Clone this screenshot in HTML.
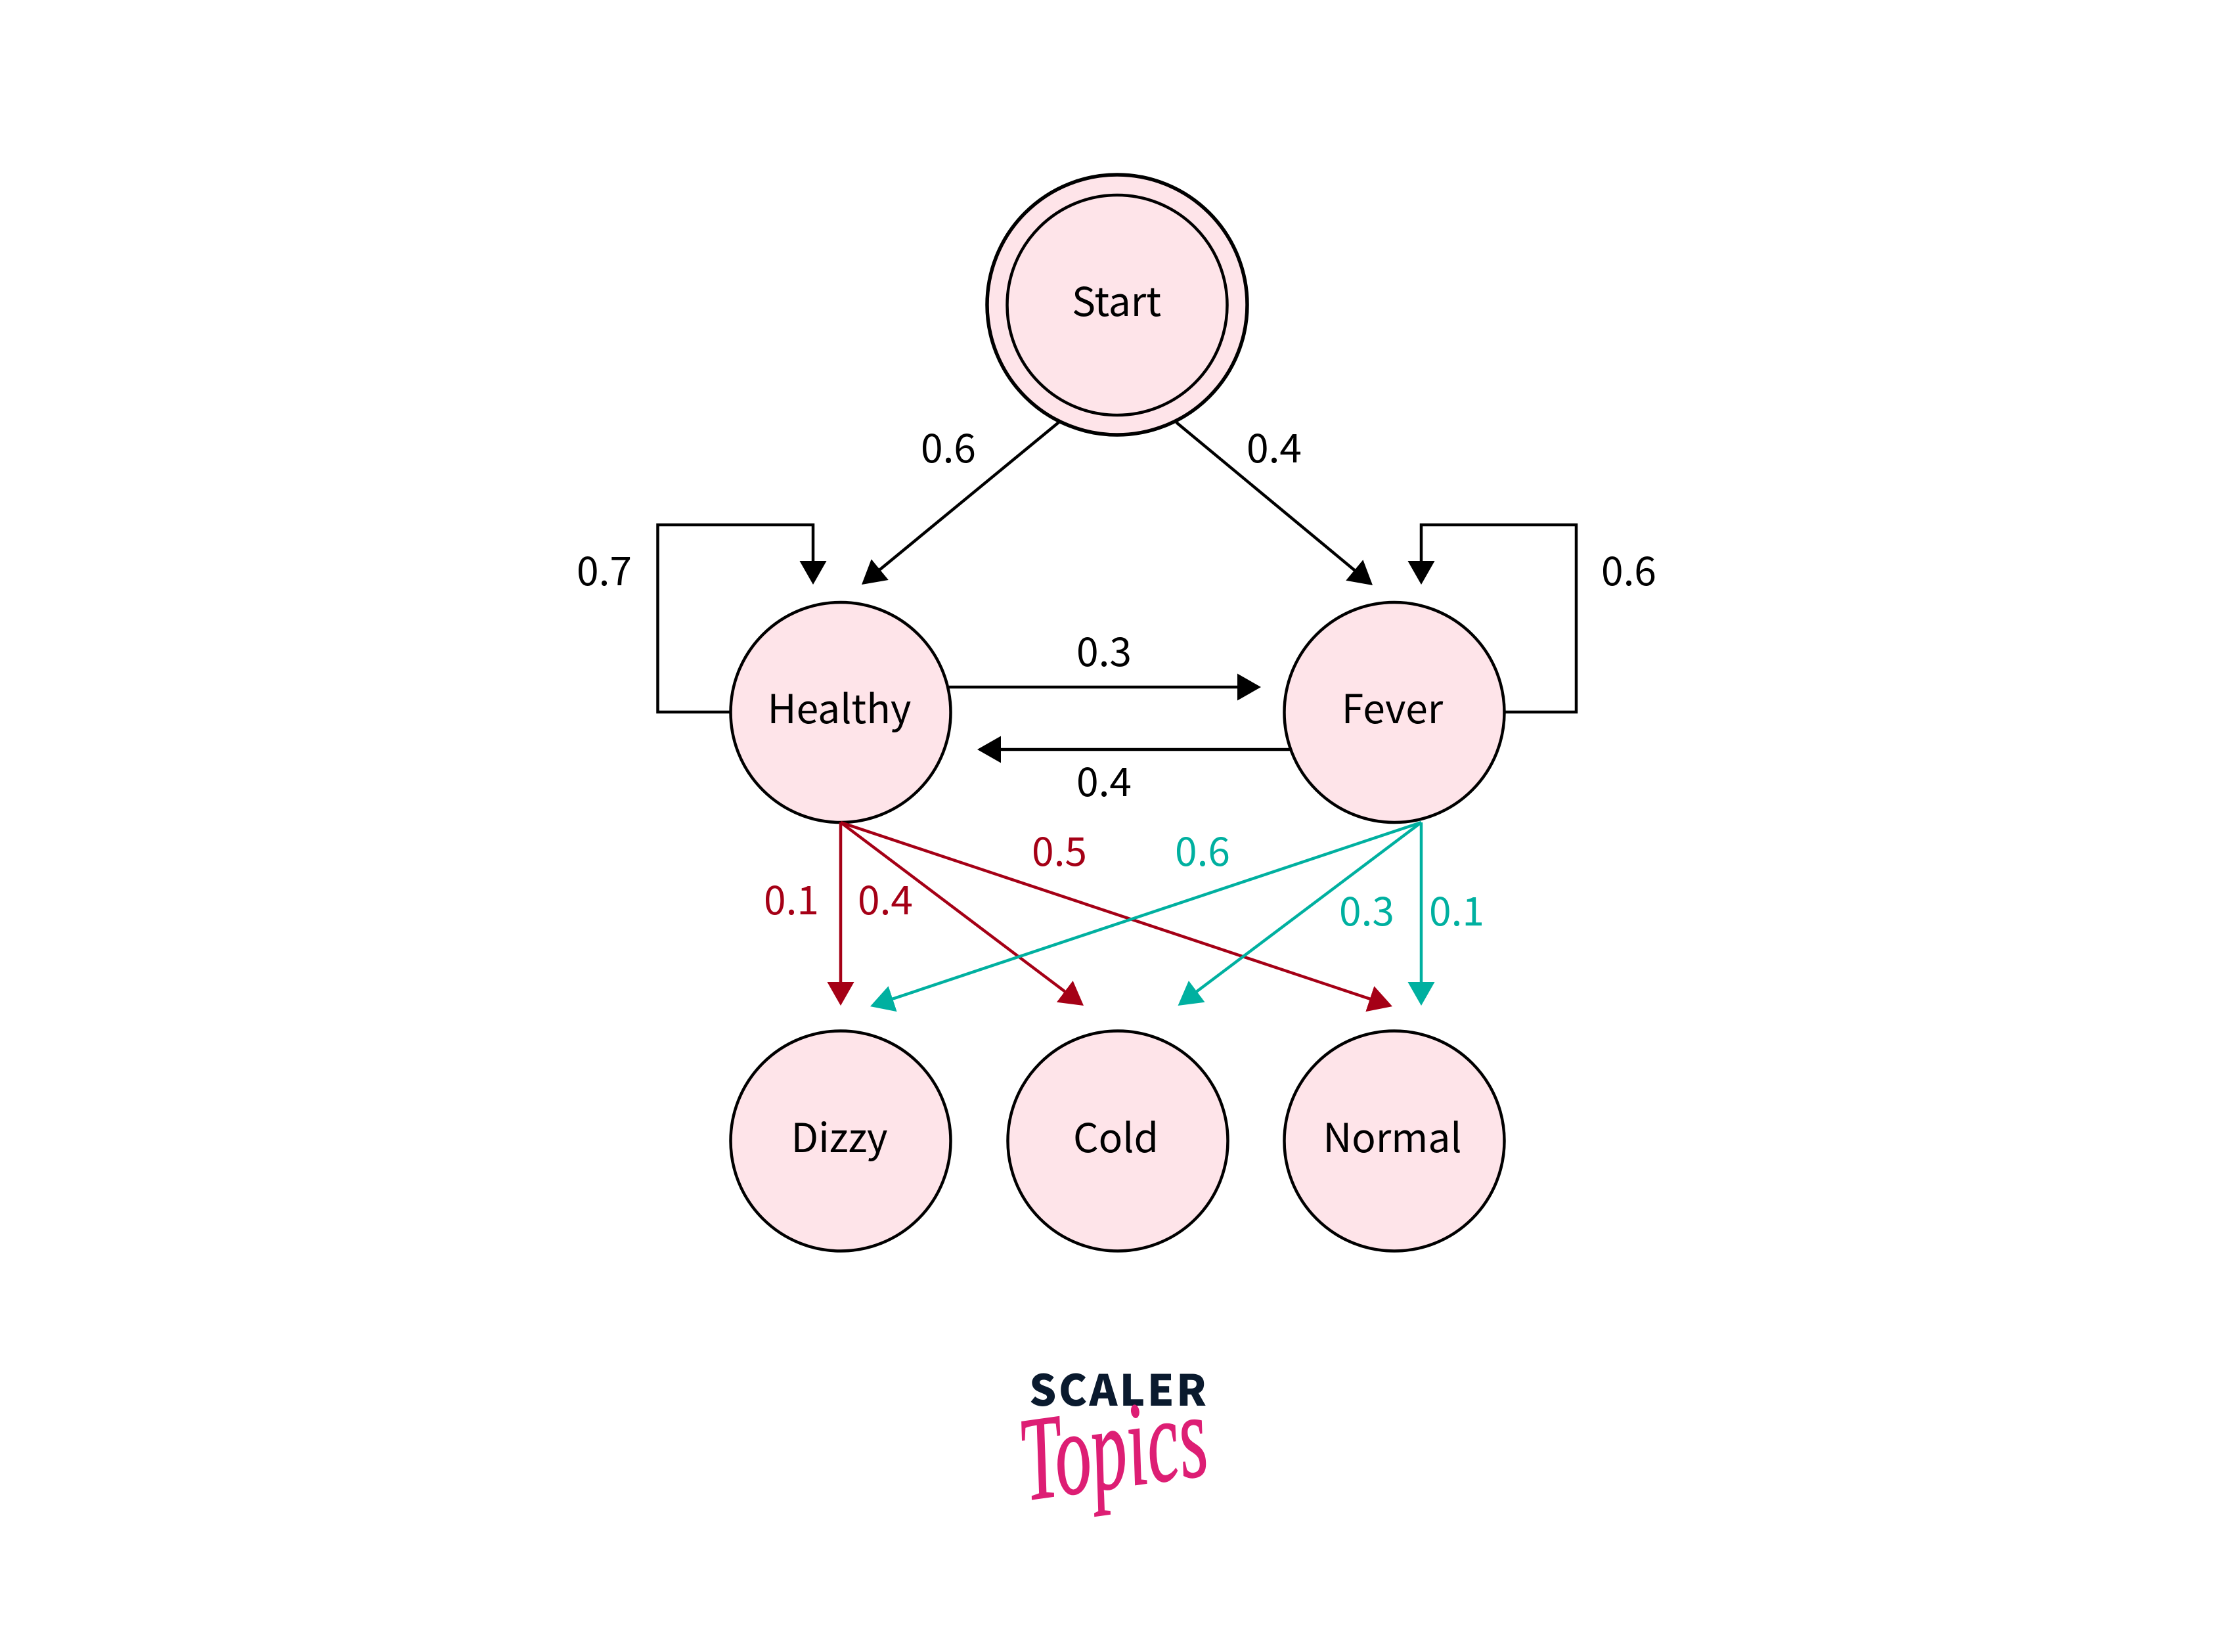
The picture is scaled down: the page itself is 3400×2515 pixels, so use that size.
<!DOCTYPE html>
<html><head><meta charset="utf-8"><style>
html,body{margin:0;padding:0;background:#fff}
svg{display:block}
text{font-family:"Noto Sans CJK JP","Liberation Sans",sans-serif;font-size:60.5px;text-anchor:middle;fill:#000}
.r{fill:#a50016}.t{fill:#00b0a0}
</style></head><body>
<svg xmlns="http://www.w3.org/2000/svg" width="3400" height="2515" viewBox="0 0 3400 2515">
<defs>
<marker id="k" markerUnits="userSpaceOnUse" markerWidth="36" markerHeight="41" refX="26" refY="20.5" orient="auto"><path d="M0,0L36,20.5L0,41Z" fill="#000"/></marker>
<marker id="m" markerUnits="userSpaceOnUse" markerWidth="36" markerHeight="41" refX="26" refY="20.5" orient="auto"><path d="M0,0L36,20.5L0,41Z" fill="#a50016"/></marker>
<marker id="g" markerUnits="userSpaceOnUse" markerWidth="36" markerHeight="41" refX="26" refY="20.5" orient="auto"><path d="M0,0L36,20.5L0,41Z" fill="#00b0a0"/></marker>
</defs>
<rect width="3400" height="2515" fill="#fff"/>
<g fill="#fee4e9" stroke="#000">
<circle cx="1701" cy="464" r="198" stroke-width="5.5"/>
<circle cx="1701" cy="464.5" r="167.5" stroke-width="4.5"/>
<g stroke-width="4.5">
<circle cx="1280" cy="1084.5" r="167.5"/>
<circle cx="2123" cy="1084.5" r="167.5"/>
<circle cx="1280" cy="1737" r="167.5"/>
<circle cx="1702" cy="1737" r="167.5"/>
<circle cx="2123" cy="1737" r="167.5"/>
</g></g>
<g fill="none" stroke="#000" stroke-width="4.5" marker-end="url(#k)">
<path d="M1612,643L1319.7,883.6"/>
<path d="M1791,643L2082.3,884.6"/>
<path d="M1112,1084H1001.5V799H1238V880"/>
<path d="M2291,1084H2400V799H2164V880"/>
<path d="M1445,1046H1910"/>
<path d="M1964,1141H1498"/>
</g>
<g fill="none" stroke="#a50016" stroke-width="4.5" marker-end="url(#m)">
<path d="M1280,1252V1521"/>
<path d="M1280,1252L1642,1525"/>
<path d="M1280,1252L2110.5,1528.9"/>
</g>
<g fill="none" stroke="#00b0a0" stroke-width="4.5" marker-end="url(#g)">
<path d="M2164,1252V1521"/>
<path d="M2164,1252L1801.5,1525"/>
<path d="M2164,1252L1334.5,1528.9"/>
</g>
<text x="1700" y="481">Start</text>
<text x="1278" y="1101">Healthy</text>
<text x="2120" y="1101">Fever</text>
<text x="1278" y="1754">Dizzy</text>
<text x="1699" y="1754">Cold</text>
<text x="2120" y="1754">Normal</text>
<text x="1444" y="704">0.6</text>
<text x="1940" y="704">0.4</text>
<text x="920" y="891">0.7</text>
<text x="2480" y="891">0.6</text>
<text x="1681" y="1014">0.3</text>
<text x="1681" y="1212">0.4</text>
<text class="r" x="1613" y="1318">0.5</text>
<text class="t" x="1831" y="1318">0.6</text>
<text class="r" x="1205" y="1392">0.1</text>
<text class="r" x="1348" y="1392">0.4</text>
<text class="t" x="2081" y="1409">0.3</text>
<text class="t" x="2218" y="1409">0.1</text>
<text x="1702" y="2140" style="font-size:65px;font-weight:900;fill:#0a1a2e" textLength="270" lengthAdjust="spacing">SCALER</text>
<text transform="translate(1562,2284) rotate(-8)" style="font-family:'Liberation Serif',serif;font-style:italic;font-size:182px;text-anchor:start;fill:#dd1e74;stroke:#dd1e74;stroke-width:1.5" textLength="285" lengthAdjust="spacingAndGlyphs">Topics</text>
</svg>
</body></html>
